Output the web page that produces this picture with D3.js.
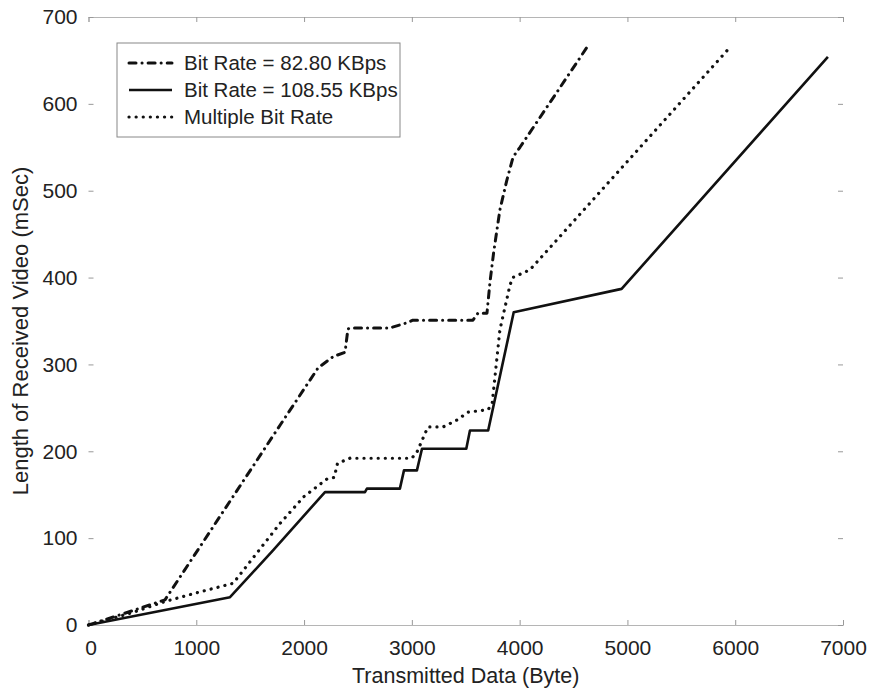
<!DOCTYPE html>
<meta charset="utf-8">

<!-- Load d3.js -->
<script src="https://d3js.org/d3.v7.min.js"></script>

<style>
  body { margin: 0; background: #fff; }
  text { font-family: "Liberation Sans", Arial, Helvetica, sans-serif; fill: #222; }
</style>

<div id="my_dataviz"></div>

<script>

  // tick values
  const xTicks = [0, 1000, 2000, 3000, 4000, 5000, 6000, 7000];
  const yTicks = [0, 100, 200, 300, 400, 500, 600, 700];

  // series names (legend order)
  const seriesNames = ["Bit Rate = 82.80 KBps", "Bit Rate = 108.55 KBps", "Multiple Bit Rate"];

  // Bit Rate = 82.80 KBps (dash-dot)
  const rateLowX = [0, 300, 710, 1777, 2130, 2270, 2380, 2407, 2444, 2797, 2955, 3010, 3567, 3613, 3697, 3725, 3760, 3817, 3881, 3940, 4003, 4624];
  const rateLowY = [0, 12, 29, 230, 296, 309, 314, 341, 342, 342, 348, 351, 351, 359, 359, 395, 430, 478, 512, 539, 550, 665];

  // Bit Rate = 108.55 KBps (solid)
  const rateHighX = [0, 1313, 1712, 2194, 2565, 2583, 2889, 2927, 3047, 3094, 3505, 3539, 3708, 3945, 4946, 6860];
  const rateHighY = [0, 32, 86, 153, 153, 157, 157, 178, 178, 203, 203, 224, 224, 360, 387, 654];

  // Multiple Bit Rate (dotted)
  const multiX = [0, 400, 710, 1000, 1342, 1563, 1777, 2000, 2212, 2280, 2310, 2426, 3000, 3047, 3149, 3289, 3419, 3521, 3708, 3745, 3817, 3910, 3935, 4096, 5951];
  const multiY = [0, 14, 27, 37, 48, 83, 117, 148, 168, 170, 186, 192, 192, 199, 228, 228, 236, 245, 248, 255, 340, 391, 400, 409, 665];

  const series = [
    { name: seriesNames[0], xs: rateLowX, ys: rateLowY, dash: "7 6 0.1 6", cap: "round", width: 3 },
    { name: seriesNames[1], xs: rateHighX, ys: rateHighY, dash: null, cap: "butt", width: 2.6 },
    { name: seriesNames[2], xs: multiX, ys: multiY, dash: "0.1 7", cap: "round", width: 3.2 }
  ];

  const W = 872, H = 692;

  const svg = d3.select("#my_dataviz")
    .append("svg")
      .attr("width", W)
      .attr("height", H);

  // scales
  const x = d3.scaleLinear().domain([0, 7000]).range([88.5, 843]);
  const y = d3.scaleLinear().domain([0, 700]).range([625, 17]);

  // bottom axis
  const gx = svg.append("g")
    .attr("transform", `translate(0, ${y(0)})`)
    .call(d3.axisBottom(x).tickValues(xTicks).tickSize(-5).tickPadding(15).tickFormat(d3.format("d")));

  // top axis (ticks only)
  const gt = svg.append("g")
    .attr("transform", `translate(0, ${y(700)})`)
    .call(d3.axisTop(x).tickValues(xTicks).tickSize(-5).tickFormat(""));

  // left axis
  const gy = svg.append("g")
    .attr("transform", `translate(${x(0)}, 0)`)
    .call(d3.axisLeft(y).tickValues(yTicks).tickSize(-5).tickPadding(11).tickFormat(d3.format("d")));

  // right axis (ticks only)
  const gr = svg.append("g")
    .attr("transform", `translate(${x(7000)}, 0)`)
    .call(d3.axisRight(y).tickValues(yTicks).tickSize(-5).tickFormat(""));

  // styling of the axes (scanned look: light lines)
  [gx, gt, gy, gr].forEach(g => {
    g.selectAll("text").style("font-size", "21px").attr("fill", "#222");
    g.selectAll(".tick line").attr("stroke", "#999");
    g.select(".domain").attr("stroke", "#b5b5b5");
  });
  gy.select(".domain").attr("stroke", "none");
  gr.select(".domain").attr("stroke", "none");
  gx.selectAll(".tick text").filter(d => d === 0).attr("dx", "2");

  // axis labels
  svg.append("text")
    .attr("text-anchor", "middle")
    .attr("x", (x(0) + x(7000)) / 2)
    .attr("y", 683)
    .style("font-size", "21.5px")
    .text("Transmitted Data (Byte)");

  svg.append("text")
    .attr("transform", `translate(28, 331) rotate(-90)`)
    .attr("text-anchor", "middle")
    .style("font-size", "22px")
    .text("Length of Received Video (mSec)");

  // lines
  const line = d3.line()
    .x(d => x(d[0]))
    .y(d => y(d[1]));

  series.forEach(s => {
    svg.append("path")
      .datum(s.xs.map((v, i) => [v, s.ys[i]]))
      .attr("d", line)
      .attr("fill", "none")
      .attr("stroke", "#111")
      .attr("stroke-width", s.width)
      .attr("stroke-linecap", s.cap)
      .attr("stroke-linejoin", "round")
      .attr("stroke-dasharray", s.dash);
  });

  // legend
  const legend = svg.append("g");
  legend.append("rect")
    .attr("x", 117)
    .attr("y", 43)
    .attr("width", 283)
    .attr("height", 94)
    .attr("fill", "#fff")
    .attr("stroke", "#888")
    .attr("stroke-width", 1);

  series.forEach((s, i) => {
    const ly = 63 + i * 27;
    legend.append("line")
      .attr("x1", 129).attr("x2", 172)
      .attr("y1", ly).attr("y2", ly)
      .attr("stroke", "#111")
      .attr("stroke-width", s.width)
      .attr("stroke-linecap", s.cap)
      .attr("stroke-dasharray", s.dash);
    legend.append("text")
      .attr("x", 184)
      .attr("y", ly)
      .attr("dy", "0.36em")
      .style("font-size", "20.5px")
      .text(s.name);
  });

</script>
